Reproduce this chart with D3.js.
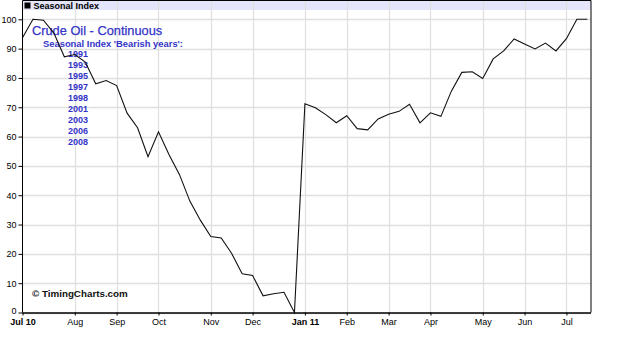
<!DOCTYPE html>
<html><head><meta charset="utf-8">
<script src="https://cdn.jsdelivr.net/npm/d3@7"></script>
<style>
html,body{margin:0;padding:0;background:#fff;}
svg{display:block;font-family:"Liberation Sans",Arial,sans-serif;}
</style></head>
<body>
<svg id="c" width="625" height="339"></svg>
<script>
// Weekly seasonal index values (week 0 = first week of Jul 2010)
const seasonalValues = [93.7,100,99.7,95.3,87.2,88,85.4,78,79.1,77.4,68,63,53.1,61.6,53.9,47.1,38,31.5,25.9,25.4,20.1,13.2,12.6,5.7,6.4,6.9,0,
  71.2,69.8,67.5,64.7,67.1,62.7,62.3,66,67.6,68.6,71,64.7,68.1,66.9,75.5,81.9,82.1,79.8,86.5,89.2,93.3,91.6,89.9,91.9,89.2,93.4,100,100];
// Month tick labels and the week index where each falls
const monthLabels = ["Jul 10","Aug","Sep","Oct","Nov","Dec","Jan 11","Feb","Mar","Apr","May","Jun","Jul"];
const monthWeeks  = [0,5,9,13,18,22,27,31,35,39,44,48,52];
const boldLabels  = ["Jul 10","Jan 11"];
const yTicks = [0,10,20,30,40,50,60,70,80,90,100];
const bearishYears = ["1991","1993","1995","1997","1998","2001","2003","2006","2008"];
const titleText = "Crude Oil - Continuous";
const subtitleText = "Seasonal Index 'Bearish years':";
const headerText = "Seasonal Index";
const creditText = "\u00A9 TimingCharts.com";

const svg = d3.select("#c");
const L = 22.5, R = 591, T = 0.5, B = 312.5;
const x = d3.scaleLinear().domain([0, 54.35]).range([L, R]);
const y = d3.scaleLinear().domain([0, 100]).range([B, 19.3]);

// header band
svg.append("rect").attr("x", L).attr("y", 1).attr("width", R - L).attr("height", 9).attr("fill", "#e4e4fb");

// gridlines
svg.append("g").selectAll("line").data(yTicks).join("line")
  .attr("x1", L).attr("x2", R).attr("y1", d => Math.round(y(d)) + 0.5).attr("y2", d => Math.round(y(d)) + 0.5)
  .attr("stroke", "#e0e0e0").attr("stroke-width", 1.3);
svg.append("g").selectAll("line").data(monthWeeks.slice(1)).join("line")
  .attr("x1", d => Math.round(x(d)) + 0.5).attr("x2", d => Math.round(x(d)) + 0.5).attr("y1", 1).attr("y2", B)
  .attr("stroke", "#e0e0e0").attr("stroke-width", 1.3);

// header text
svg.append("rect").attr("x", L + 2).attr("y", 2.5).attr("width", 6).attr("height", 6).attr("fill", "#000");
svg.append("text").attr("x", L + 11).attr("y", 9).attr("font-size", 9).attr("font-weight", "bold").text(headerText);

// frame
svg.append("path").attr("d", `M${L},${B}V${T}H${R}V${B}`).attr("fill", "none").attr("stroke", "#000").attr("stroke-width", 1);

// title block
svg.append("text").attr("x", 32).attr("y", 35).attr("font-size", 12.8).attr("fill", "#3434c8")
  .attr("stroke", "#3434c8").attr("stroke-width", 0.25).text(titleText);
svg.append("text").attr("x", 43).attr("y", 47).attr("font-size", 9.4).attr("font-weight", "bold").attr("fill", "#3434c8").text(subtitleText);
svg.append("g").selectAll("text").data(bearishYears).join("text")
  .attr("x", 68).attr("y", (d, i) => 56.5 + i * 11).attr("font-size", 9).attr("font-weight", "bold").attr("fill", "#3434c8").text(d => d);

// line
const line = d3.line().x((d, i) => x(i)).y(d => y(d));
svg.append("path").datum(seasonalValues).attr("d", line).attr("fill", "none").attr("stroke", "#111").attr("stroke-width", 1.1);

// credit
svg.append("text").attr("x", 32).attr("y", 296.5).attr("font-size", 9.8).attr("font-weight", "bold").attr("fill", "#111").text(creditText);

// axes
const ya = svg.append("g").attr("transform", `translate(${L},0)`)
  .call(d3.axisLeft(y).tickValues(yTicks).tickSize(4).tickPadding(2));
ya.select(".domain").remove();
ya.selectAll("text").attr("font-size", 9).attr("font-family", "Liberation Sans, Arial, sans-serif").attr("fill", "#000");
ya.selectAll(".tick").filter(d => d === 0).select("text").attr("dy", "0.1em");
ya.selectAll("line").attr("stroke", "#000");

const xa = svg.append("g").attr("transform", `translate(0,${B})`)
  .call(d3.axisBottom(x).tickValues(monthWeeks).tickFormat((d, i) => monthLabels[i]).tickSize(3).tickPadding(3));
xa.select(".domain").attr("d", `M${L},0.5H${R}`).attr("stroke", "#000").attr("stroke-width", 1.5);
xa.selectAll("text").attr("font-size", 9).attr("font-family", "Liberation Sans, Arial, sans-serif").attr("fill", "#000")
  .attr("font-weight", d => boldLabels.includes(monthLabels[monthWeeks.indexOf(d)]) ? "bold" : "normal");
xa.selectAll("line").attr("stroke", "#000");
</script>
</body></html>
